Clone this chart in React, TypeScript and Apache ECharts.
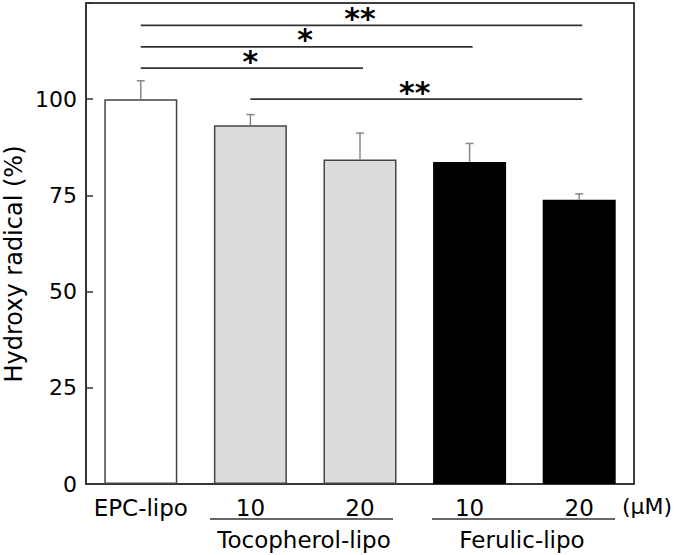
import React, { useEffect, useRef } from "react";
import * as echarts from "echarts";

const categories = ["EPC-lipo", "10", "20", "10", "20"];
const values = [100, 93.2, 84.3, 83.7, 73.9];
const errors = [4.8, 2.8, 6.9, 4.8, 1.5];
const barColors = ["#ffffff", "#dcdcdc", "#dcdcdc", "#000000", "#000000"];
const yTicks = [0, 25, 50, 75, 100];
const sigFrom = [0, 0, 0, 1];
const sigTo = [4, 3, 2, 4];
const sigY = [119.2, 113.6, 108.1, 100.0];
const sigLabel = ["**", "*", "*", "**"];
const groups = ["Tocopherol-lipo", "Ferulic-lipo"];

const FONT = "DejaVu Sans";

export default function App() {
  const ref = useRef<HTMLDivElement>(null);
  useEffect(() => {
    const chart = echarts.init(ref.current!, null, { renderer: "svg" });
    chart.setOption({
      animation: false,
      grid: {
        left: 86,
        right: 40,
        top: 3,
        bottom: 71,
        show: true,
        borderColor: "#000",
        borderWidth: 1.5,
        backgroundColor: "transparent",
      },
      xAxis: {
        type: "category",
        data: categories,
        axisLine: { show: true, lineStyle: { color: "#333", width: 1.5 } },
        axisTick: { show: false },
        axisLabel: {
          interval: 0,
          color: "#000",
          fontFamily: FONT,
          fontSize: 23,
          margin: 12,
        },
      },
      yAxis: {
        type: "value",
        min: 0,
        max: 125,
        interval: 25,
        axisLine: { show: true, lineStyle: { color: "#333", width: 1.5 } },
        axisTick: { show: true, inside: true, length: 7, lineStyle: { color: "#333", width: 1.5 } },
        splitLine: { show: false },
        axisLabel: {
          color: "#000",
          fontFamily: FONT,
          fontSize: 22,
          margin: 9,
          formatter: (v: number) => (yTicks.includes(v) ? String(v) : ""),
        },
      },
      series: [
        {
          type: "bar",
          barWidth: 73,
          data: values.map((v, i) => ({
            value: v,
            itemStyle: {
              color: barColors[i],
              borderColor: i >= 3 ? "#000" : "#444",
              borderWidth: 1.5,
            },
          })),
          z: 2,
        },
        {
          type: "custom",
          clip: false,
          z: 3,
          data: values.map((v, i) => [i, v, errors[i]]),
          renderItem: (params: any, api: any) => {
            const x = api.value(0);
            const v = api.value(1);
            const e = api.value(2);
            const base = api.coord([x, v]);
            const top = api.coord([x, v + e]);
            const style = { stroke: "#888", lineWidth: 1.5 };
            return {
              type: "group",
              children: [
                { type: "line", shape: { x1: base[0], y1: base[1], x2: top[0], y2: top[1] }, style },
                { type: "line", shape: { x1: top[0] - 4, y1: top[1], x2: top[0] + 4, y2: top[1] }, style },
              ],
            };
          },
        },
        {
          type: "custom",
          clip: false,
          z: 4,
          encode: { x: [0, 1], y: 2 },
          data: sigFrom.map((f, i) => [f, sigTo[i], sigY[i]]),
          renderItem: (params: any, api: any) => {
            const a = api.coord([api.value(0), api.value(2)]);
            const b = api.coord([api.value(1), api.value(2)]);
            const cx = (a[0] + b[0]) / 2;
            return {
              type: "group",
              children: [
                {
                  type: "line",
                  shape: { x1: a[0], y1: a[1], x2: b[0] + 3, y2: b[1] },
                  style: { stroke: "#333", lineWidth: 1.8 },
                },
                {
                  type: "text",
                  x: cx,
                  y: a[1] - 7,
                  style: {
                    text: sigLabel[params.dataIndex],
                    fontFamily: FONT,
                    fontWeight: "bold",
                    fontSize: 30,
                    lineHeight: 20,
                    fill: "#000",
                    align: "center",
                    verticalAlign: "middle",
                  },
                },
              ],
            };
          },
        },
      ],
      graphic: [
        {
          type: "text",
          x: 14,
          y: 264,
          rotation: Math.PI / 2,
          style: {
            text: "Hydroxy radical (%)",
            fontFamily: FONT,
            fontSize: 24,
            fill: "#000",
            align: "center",
            verticalAlign: "middle",
          },
        },
        {
          type: "text",
          x: 647,
          y: 506,
          style: {
            text: "(μM)",
            fontFamily: FONT,
            fontSize: 22,
            fill: "#000",
            align: "center",
            verticalAlign: "middle",
          },
        },
        {
          type: "line",
          shape: { x1: 210, y1: 519, x2: 393, y2: 519 },
          style: { stroke: "#333", lineWidth: 1.5 },
        },
        {
          type: "line",
          shape: { x1: 432, y1: 519, x2: 615, y2: 519 },
          style: { stroke: "#333", lineWidth: 1.5 },
        },
        {
          type: "text",
          x: 304,
          y: 540,
          style: {
            text: groups[0],
            fontFamily: FONT,
            fontSize: 23,
            fill: "#000",
            align: "center",
            verticalAlign: "middle",
          },
        },
        {
          type: "text",
          x: 522,
          y: 540,
          style: {
            text: groups[1],
            fontFamily: FONT,
            fontSize: 23,
            fill: "#000",
            align: "center",
            verticalAlign: "middle",
          },
        },
      ],
    });
    return () => chart.dispose();
  }, []);
  return <div ref={ref} style={{ width: 674, height: 555, position: "absolute", left: 0, top: 0 }} />;
}
